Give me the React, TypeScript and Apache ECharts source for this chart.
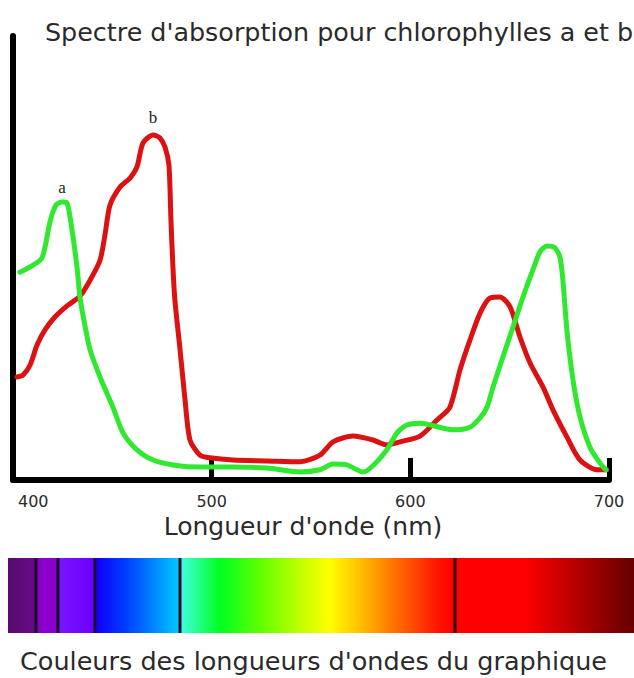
import React, { useEffect, useRef } from "react";
import * as echarts from "echarts";

const titleText = "Spectre d'absorption pour chlorophylles a et b";
const xAxisName = "Longueur d'onde (nm)";
const captionText = "Couleurs des longueurs d'ondes du graphique";

// Chlorophylle a (green)
const chlAWavelength = [
  403.5, 408.6, 414.6, 418.6, 421.6, 424.7, 427.2, 429.7, 432.2, 433.7, 435.7, 438.8, 443.8, 450.3,
  455.4, 462.4, 470.5, 480.5, 494.1, 510.7, 527.8, 544.5, 554.5, 561.1, 568.1, 576.2, 581.2, 588.2,
  593.3, 598.3, 604.9, 621.5, 630.0, 635.1, 638.6, 641.6, 646.6, 651.7, 656.7, 661.7, 665.3, 668.8,
  672.8, 675.3, 676.8, 678.8, 681.9, 685.4, 690.4, 695.5, 698.5,
];
const chlAAbsorbance = [
  46.8, 48.0, 50.0, 58.1, 61.9, 62.6, 62.4, 56.3, 48.0, 41.2, 36.0, 29.3, 23.2, 16.4,
  10.6, 6.8, 4.5, 3.4, 2.9, 2.9, 2.7, 1.8, 2.3, 3.6, 3.4, 1.8, 3.2, 6.8,
  10.6, 12.4, 12.8, 11.3, 11.9, 14.0, 16.4, 20.9, 27.7, 34.5, 41.2, 47.3, 51.4, 52.7,
  52.3, 50.2, 45.0, 33.8, 22.5, 14.2, 7.4, 3.8, 2.3,
];

// Chlorophylle b (red)
const chlBWavelength = [
  402.0, 405.0, 408.6, 412.1, 416.1, 421.1, 427.2, 433.7, 438.8, 443.8, 446.3, 448.8, 453.9, 458.9,
  462.4, 465.4, 470.5, 474.0, 476.5, 478.5, 479.5, 480.5, 481.5, 484.1, 486.6, 489.1, 494.1, 499.2,
  510.7, 527.8, 544.5, 554.5, 561.1, 571.1, 581.2, 588.2, 594.8, 604.9, 613.4, 619.9, 625.0, 630.0,
  635.1, 640.1, 645.1, 650.2, 655.2, 660.2, 666.8, 671.8, 678.8, 685.4, 693.9, 698.9,
];
const chlBAbsorbance = [
  23.2, 23.6, 25.9, 30.4, 33.8, 36.7, 39.2, 41.4, 45.0, 49.5, 55.2, 61.9, 66.0, 68.0,
  70.5, 75.9, 77.7, 77.0, 75.0, 70.9, 58.6, 48.0, 40.5, 29.3, 18.0, 9.0, 5.6, 5.0,
  4.5, 4.3, 4.1, 5.6, 8.6, 9.9, 9.0, 7.9, 8.6, 9.9, 13.5, 16.4, 24.8, 31.5,
  37.6, 41.0, 41.2, 39.0, 32.2, 26.4, 20.9, 15.8, 9.7, 4.5, 2.3, 2.3,
];

// peak labels: [label, wavelength, absorbance]
const peakA = ["a", 424.7, 62.6];
const peakB = ["b", 470.5, 77.7];

const spectrumStops: [number, string][] = [
  [0, "#580a6c"],
  [0.043, "#680a8a"],
  [0.047, "#8a00c8"],
  [0.079, "#8a00d2"],
  [0.082, "#7a14ff"],
  [0.137, "#6a00ff"],
  [0.143, "#1000ff"],
  [0.19, "#0040ff"],
  [0.272, "#00c8ff"],
  [0.276, "#40ffe0"],
  [0.339, "#00ff20"],
  [0.403, "#60ff00"],
  [0.466, "#c0ff00"],
  [0.514, "#ffff00"],
  [0.562, "#ffc000"],
  [0.618, "#ff7000"],
  [0.69, "#ff1000"],
  [0.714, "#ff0000"],
  [0.826, "#ff0000"],
  [0.914, "#b00000"],
  [1, "#650000"],
];

function zip(xs: number[], ys: number[]) {
  return xs.map((x, i) => [x, ys[i]]);
}

export default function App() {
  const ref = useRef<HTMLDivElement>(null);
  useEffect(() => {
    if (!ref.current) return;
    const chart = echarts.init(ref.current, undefined, { renderer: "svg" });
    const textColor = "#2a2a2a";
    const sans = "DejaVu Sans";
    const barX = 8;
    const barY = 558;
    const barW = 626;
    const barH = 75;
    const darkLines = [36, 58, 95, 180, 455];
    const markLabel = (p: any[], distance: number) => ({
      symbol: "circle",
      symbolSize: 1,
      itemStyle: { color: "rgba(0,0,0,0)" },
      label: {
        show: true,
        position: "top",
        distance,
        formatter: p[0],
        fontFamily: "Liberation Serif",
        fontSize: 17,
        color: "#222",
      },
      data: [{ coord: [p[1], p[2]] }],
    });
    chart.setOption({
      animation: false,
      backgroundColor: "#ffffff",
      title: {
        text: titleText,
        left: 45,
        top: 19,
        padding: 0,
        textStyle: { fontFamily: sans, fontSize: 25.4, fontWeight: "normal", color: textColor },
      },
      grid: { left: 13, right: 25, top: 36, bottom: 198 },
      xAxis: {
        type: "value",
        min: 400,
        max: 700,
        interval: 100,
        name: xAxisName,
        nameLocation: "middle",
        nameGap: 34,
        nameTextStyle: {
          fontFamily: sans,
          fontSize: 25,
          color: textColor,
          verticalAlign: "top",
          padding: [0, 16, 0, 0],
        },
        axisLine: { show: true, onZero: false, lineStyle: { color: "#000", width: 6 } },
        axisTick: { show: true, inside: true, length: 22, lineStyle: { color: "#000", width: 5 } },
        axisLabel: {
          fontFamily: sans,
          fontSize: 16,
          color: textColor,
          margin: 13,
          alignMinLabel: "left",
          formatter: (v: number) => (v === 400 ? `{first|${v}}` : `${v}`),
          rich: { first: { padding: [0, 0, 0, 5], fontFamily: sans, fontSize: 16, color: textColor } },
        },
        splitLine: { show: false },
      },
      yAxis: {
        type: "value",
        min: 0,
        max: 100,
        axisLine: { show: true, lineStyle: { color: "#000", width: 6 } },
        axisTick: { show: false },
        axisLabel: { show: false },
        splitLine: { show: false },
      },
      series: [
        {
          type: "line",
          name: "Chlorophylle b",
          data: zip(chlBWavelength, chlBAbsorbance),
          showSymbol: false,
          smooth: 0.25,
          lineStyle: { color: "#dc1212", width: 5, join: "round", cap: "round" },
          z: 2,
          markPoint: markLabel(peakB, 9),
        },
        {
          type: "line",
          name: "Chlorophylle a",
          data: zip(chlAWavelength, chlAAbsorbance),
          showSymbol: false,
          smooth: 0.25,
          lineStyle: { color: "#30e830", width: 5, join: "round", cap: "round" },
          z: 3,
          markPoint: markLabel(peakA, 6),
        },
      ],
      graphic: [
        {
          type: "rect",
          shape: { x: barX, y: barY, width: barW, height: barH },
          style: {
            fill: new echarts.graphic.LinearGradient(
              0,
              0,
              1,
              0,
              spectrumStops.map(([offset, color]) => ({ offset, color }))
            ),
          },
        },
        ...darkLines.map((lx) => ({
          type: "rect",
          shape: { x: lx - 1.5, y: barY, width: 3, height: barH },
          style: { fill: lx > 400 ? "#3a0000" : "#140a28" },
        })),
        {
          type: "text",
          left: 20,
          top: 648,
          style: { text: captionText, font: `25.5px "${sans}"`, fill: textColor },
        },
      ],
    });
    return () => chart.dispose();
  }, []);
  return (
    <div
      ref={ref}
      style={{ position: "absolute", left: 0, top: 0, width: 634, height: 678, background: "#fff" }}
    />
  );
}
